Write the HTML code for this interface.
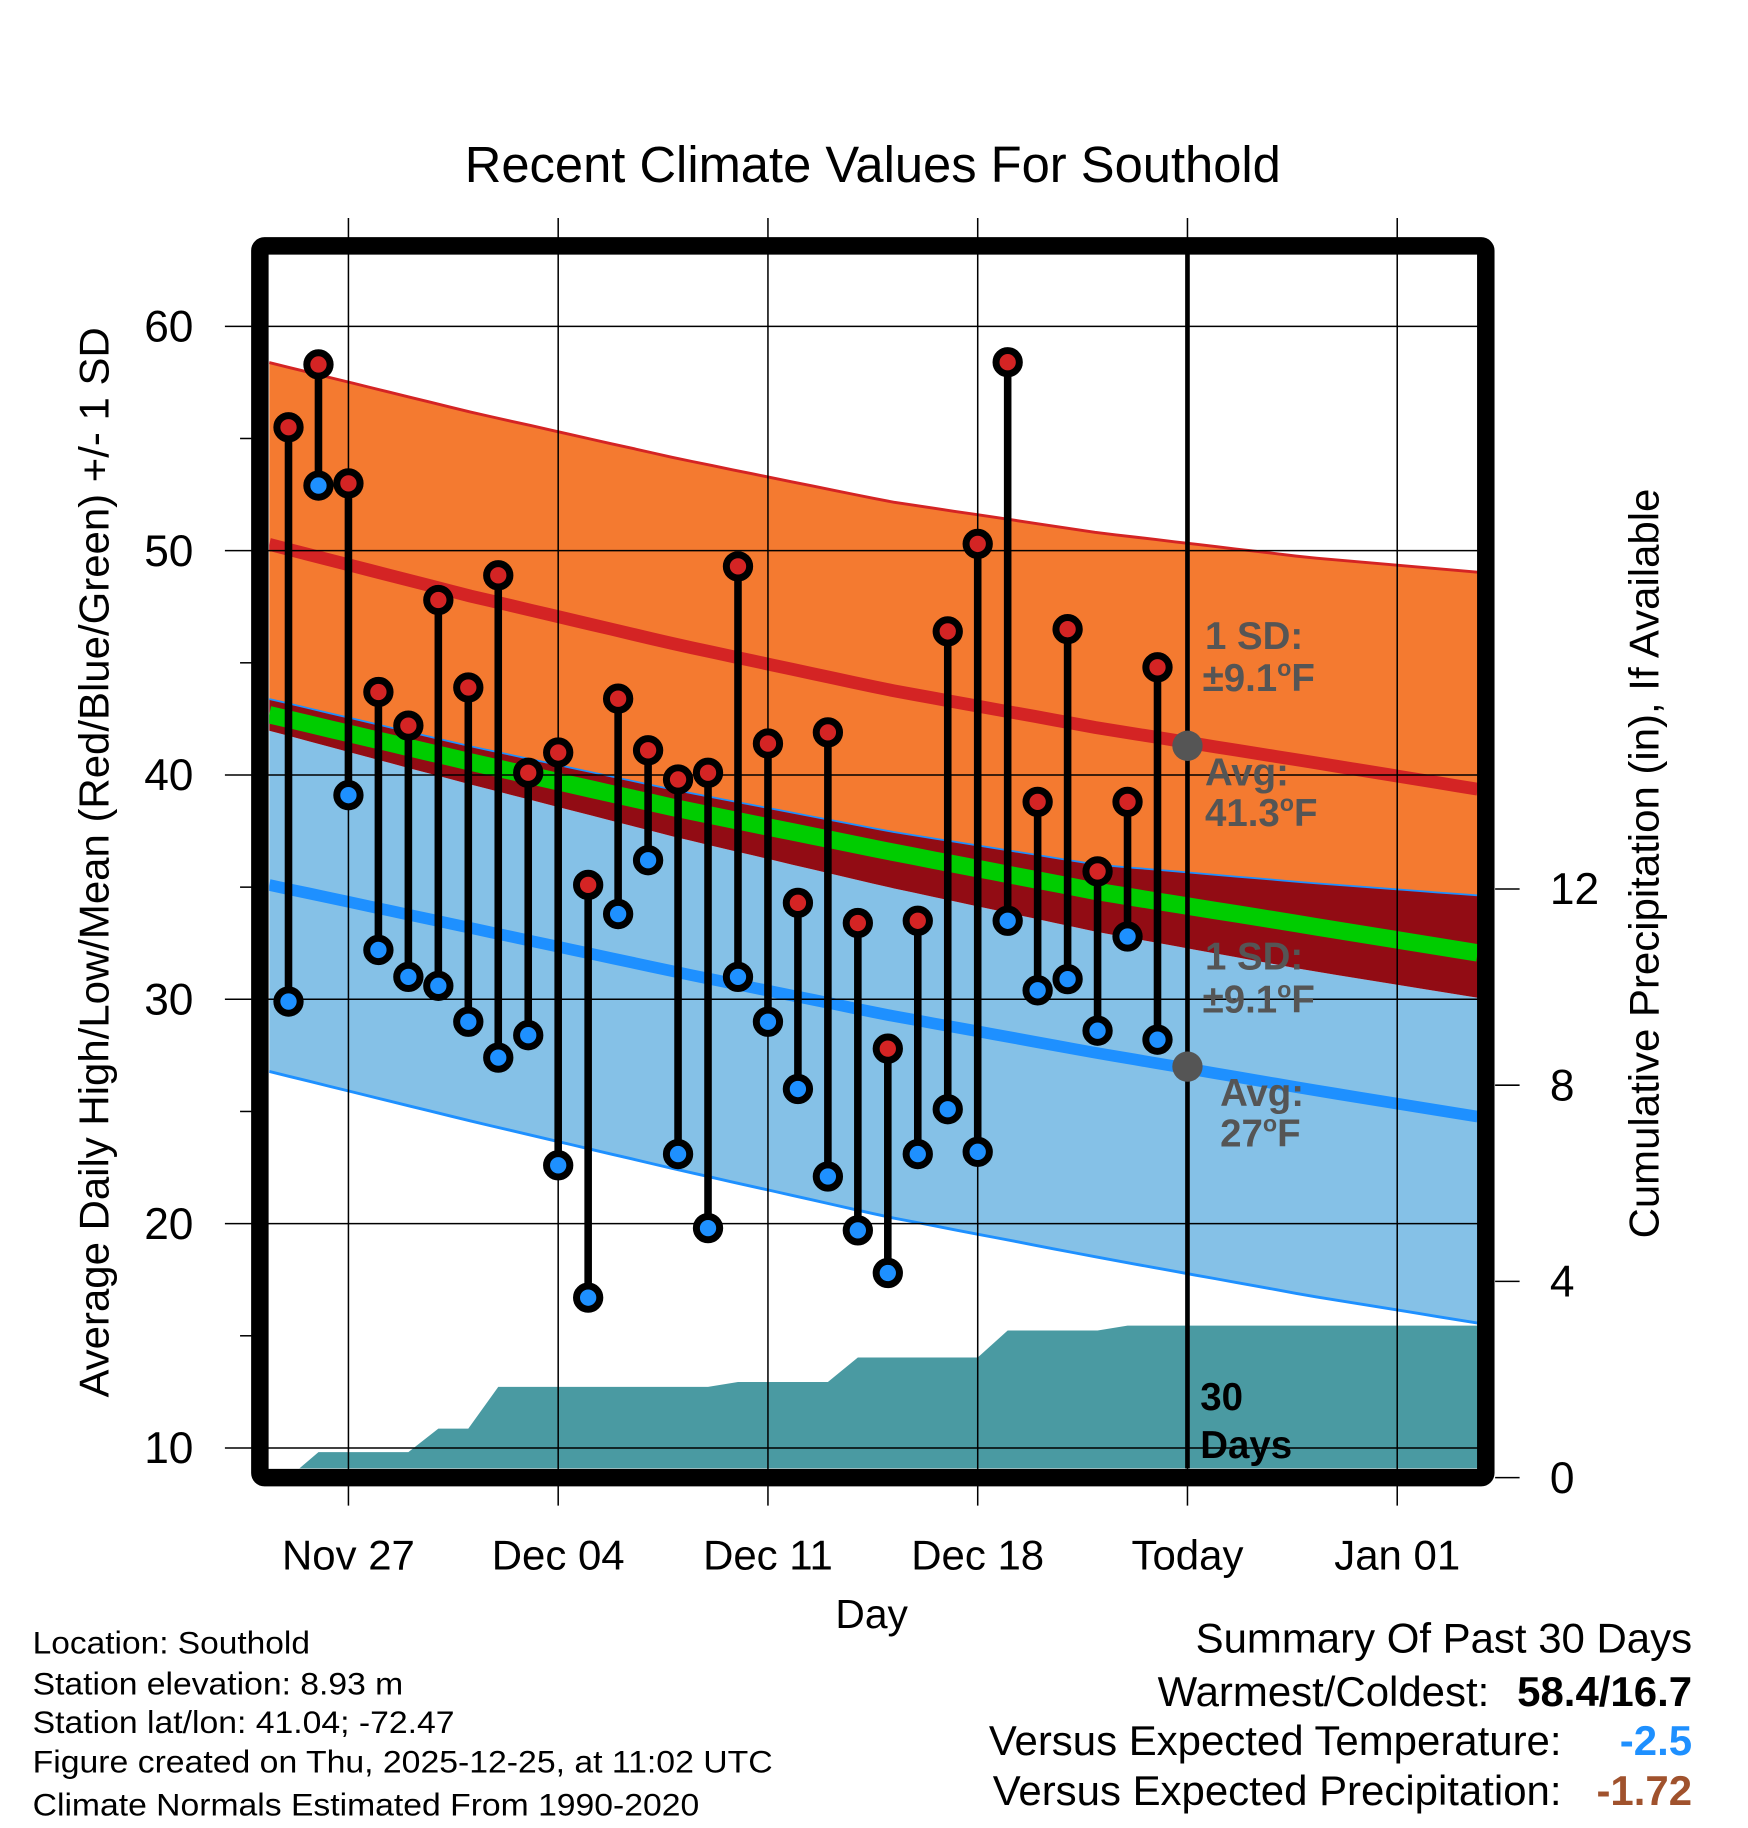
<!DOCTYPE html>
<html><head><meta charset="utf-8"><style>
html,body{margin:0;padding:0;background:#fff}
svg{display:block;font-family:"Liberation Sans",sans-serif}
</style></head><body>
<svg id="chart" width="1748" height="1828" viewBox="0 0 1500 1568.6" xmlns="http://www.w3.org/2000/svg">
<text x="749" y="156" font-size="43.5" text-anchor="middle">Recent Climate Values For Southold</text>
<g id="plot"></g>
<text transform="translate(93,740) rotate(-90)" font-size="36" text-anchor="middle">Average Daily High/Low/Mean (Red/Blue/Green) +/- 1 SD</text>
<text transform="translate(1423,741) rotate(-90)" font-size="36" text-anchor="middle">Cumulative Precipitation (in), If Available</text>
<text x="748" y="1397" font-size="35" text-anchor="middle">Day</text>
<g font-size="27">
<text x="28" y="1419" textLength="238" lengthAdjust="spacingAndGlyphs">Location: Southold</text>
<text x="28" y="1454" textLength="318" lengthAdjust="spacingAndGlyphs">Station elevation: 8.93 m</text>
<text x="28" y="1487" textLength="362" lengthAdjust="spacingAndGlyphs">Station lat/lon: 41.04; -72.47</text>
<text x="28" y="1521" textLength="635" lengthAdjust="spacingAndGlyphs">Figure created on Thu, 2025-12-25, at 11:02 UTC</text>
<text x="28" y="1558" textLength="572" lengthAdjust="spacingAndGlyphs">Climate Normals Estimated From 1990-2020</text>
</g>
<g font-size="36">
<text x="1452" y="1418" text-anchor="end">Summary Of Past 30 Days</text>
<text x="1278" y="1464" text-anchor="end">Warmest/Coldest:</text>
<text x="1452" y="1464" text-anchor="end" font-weight="bold">58.4/16.7</text>
<text x="1340" y="1506" text-anchor="end">Versus Expected Temperature:</text>
<text x="1452" y="1506" text-anchor="end" font-weight="bold" fill="#1e90ff">-2.5</text>
<text x="1340" y="1549" text-anchor="end">Versus Expected Precipitation:</text>
<text x="1452" y="1549" text-anchor="end" font-weight="bold" fill="#a0522d">-1.72</text>
</g>
</svg>
<script>
// data
const days = [-2,-1,0,1,2,3,4,5,6,7,8,9,10,11,12,13,14,15,16,17,18,19,20,21,22,23,24,25,26,27];
const highs = [55.5,58.3,53.0,43.7,42.2,47.8,43.9,48.9,40.1,41.0,35.1,43.4,41.1,39.8,40.1,49.3,41.4,34.3,41.9,33.4,27.8,33.5,46.4,50.3,58.4,38.8,46.5,35.7,38.8,44.8];
const lows = [29.9,52.9,39.1,32.2,31.0,30.6,29.0,27.4,28.4,22.6,16.7,33.8,36.2,23.1,19.8,31.0,29.0,26.0,22.1,19.7,17.8,23.1,25.1,23.2,33.5,30.4,30.9,28.6,32.8,28.2];
const precip = [0,0.52,0.52,0.52,0.52,1.0,1.0,1.85,1.85,1.85,1.85,1.85,1.85,1.85,1.85,1.95,1.95,1.95,1.95,2.45,2.45,2.45,2.45,2.45,3.0,3.0,3.0,3.0,3.1,3.1];
const normDays = [-3,4,11,18,25,32,38];
const hiTop = [58.5,56.2,54.1,52.2,50.8,49.7,49.0];
const hiMean = [50.4,48.0,45.8,43.8,42.1,40.6,39.3];
const hiBot = [43.5,41.3,39.3,37.5,36.0,35.2,34.6];
const meanLine = [42.8,40.6,38.5,36.6,34.8,33.3,32.0];
const loTop = [42.1,39.6,37.2,35.0,33.0,31.3,30.0];
const loMean = [35.2,33.2,31.2,29.3,27.6,26.0,24.7];
const loBot = [26.9,24.6,22.4,20.3,18.5,16.8,15.5];
const xTickDays = [0,7,14,21,28,35];
const xTickLabels = ["Nov 27","Dec 04","Dec 11","Dec 18","Today","Jan 01"];
const yTicks = [10,20,30,40,50,60];
const y2Ticks = [0,4,8,12];

const NS="http://www.w3.org/2000/svg";
const X0=231,X1=1268,Y0=216,Y1=1260;
const xs=d=>299+d*25.714;
const ys=v=>280+(60-v)*19.25;
const yp=p=>1268-p*42.1;
const g=document.getElementById('plot');
function mk(tag,attrs,parent){const e=document.createElementNS(NS,tag);for(const k in attrs)e.setAttribute(k,attrs[k]);(parent||g).appendChild(e);return e;}
function interp(arr,d){for(let i=0;i<normDays.length-1;i++){if(d<=normDays[i+1]||i==normDays.length-2){const t=(d-normDays[i])/(normDays[i+1]-normDays[i]);return arr[i]+t*(arr[i+1]-arr[i]);}}}
const dL=(X0-299)/25.714,dR=(X1-299)/25.714;
const sd=[];for(let d=dL;d<=dR+0.001;d+=(dR-dL)/60)sd.push(d);
const line=arr=>sd.map(d=>xs(d).toFixed(1)+','+ys(interp(arr,d)).toFixed(1));
function band(a,b){return 'M'+line(a).join('L')+'L'+line(b).reverse().join('L')+'Z';}

const clip=mk('clipPath',{id:'pc'});mk('rect',{x:X0,y:Y0,width:X1-X0,height:Y1-Y0},clip);
const pg=mk('g',{'clip-path':'url(#pc)'});

let e;
e=mk('path',{d:band(hiTop,hiBot),fill:'#f47a30'},pg);


e=mk('path',{d:band(loTop,loBot),fill:'#85c1e7'},pg);


e=mk('path',{d:band(hiBot,loTop),fill:'#920c14'},pg);


e=mk('polyline',{points:line(hiBot).join(' '),fill:'none',stroke:'#1e90ff','stroke-width':1.5},pg);


e=mk('polyline',{points:line(hiTop).join(' '),fill:'none',stroke:'#d42424','stroke-width':2.5},pg);


e=mk('polyline',{points:line(loBot).join(' '),fill:'none',stroke:'#1e90ff','stroke-width':2.5},pg);


e=mk('polyline',{points:line(meanLine).join(' '),fill:'none',stroke:'#00cc00','stroke-width':15},pg);


e=mk('polyline',{points:line(hiMean).join(' '),fill:'none',stroke:'#d42424','stroke-width':11},pg);


e=mk('polyline',{points:line(loMean).join(' '),fill:'none',stroke:'#1e90ff','stroke-width':10},pg);



// precip area
let pd='M'+xs(days[0])+','+yp(0);
days.forEach((d,i)=>{pd+='L'+xs(d)+','+yp(precip[i]);});
pd+='L'+X1+','+yp(precip[precip.length-1])+'L'+X1+','+yp(0)+'Z';
e=mk('path',{d:pd,fill:'#4a9aa2'},pg);



// grid
yTicks.forEach(v=>{
  e=mk('line',{x1:193,x2:X1,y1:ys(v),y2:ys(v),stroke:'#000','stroke-width':1.3});
  
  
  e=mk('text',{x:166,y:ys(v)+13,'font-size':38,'text-anchor':'end'});e.textContent=v;
  
  
});
for(let v=15;v<=60;v+=10){mk('line',{x1:206,x2:216,y1:ys(v),y2:ys(v),stroke:'#000','stroke-width':1.3});}
xTickDays.forEach((d,i)=>{
  e=mk('line',{x1:xs(d),x2:xs(d),y1:187,y2:1292,stroke:'#000','stroke-width':1.3});
  
  
  e=mk('text',{x:xs(d),y:1347,'font-size':36,'text-anchor':'middle'});e.textContent=xTickLabels[i];
  
  
});
y2Ticks.forEach(p=>{
  mk('line',{x1:1283,x2:1304,y1:yp(p),y2:yp(p),stroke:'#000','stroke-width':1.3});
  e=mk('text',{x:1330,y:yp(p)+13,'font-size':38});e.textContent=p;
  
  
});
// today line
e=mk('line',{x1:xs(28),x2:xs(28),y1:Y0,y2:Y1,stroke:'#000','stroke-width':4});



// stems and points
days.forEach((d,i)=>{
  e=mk('line',{x1:xs(d),x2:xs(d),y1:ys(highs[i]),y2:ys(lows[i]),stroke:'#000','stroke-width':6.5});
  
  
});
days.forEach((d,i)=>{
  e=mk('circle',{cx:xs(d),cy:ys(highs[i]),r:10,fill:'#d42424',stroke:'#000','stroke-width':6});
  
  
  e=mk('circle',{cx:xs(d),cy:ys(lows[i]),r:10,fill:'#1e90ff',stroke:'#000','stroke-width':6});
  
  
});
// annotations
const gray='#555';
e=mk('circle',{cx:xs(28),cy:ys(41.3),r:13,fill:gray});


e=mk('circle',{cx:xs(28),cy:ys(27),r:13,fill:gray});


function lbl(x,y,txt,name,fill){e=mk('text',{x:x,y:y,'font-size':33,'font-weight':'bold',fill:fill||gray});e.innerHTML=txt;
  
  }
lbl(1034,557,'1 SD:','high-sd-label');
lbl(1032,593,'±9.1<tspan font-size="20" dy="-13">o</tspan><tspan dy="13">F</tspan>','high-sd-value');
lbl(1034,674,'Avg:','high-avg-label');
lbl(1034,709,'41.3<tspan font-size="20" dy="-13">o</tspan><tspan dy="13">F</tspan>','high-avg-value');
lbl(1034,832,'1 SD:','low-sd-label');
lbl(1032,869,'±9.1<tspan font-size="20" dy="-13">o</tspan><tspan dy="13">F</tspan>','low-sd-value');
lbl(1047,949,'Avg:','low-avg-label');
lbl(1047,984,'27<tspan font-size="20" dy="-13">o</tspan><tspan dy="13">F</tspan>','low-avg-value');
lbl(1030,1210,'30','days-label','#000');
lbl(1030,1251,'Days','days-label-2','#000');

// frame
e=mk('rect',{x:223,y:211,width:1052,height:1057,fill:'none',stroke:'#000','stroke-width':15,rx:4});


</script>
</body></html>
